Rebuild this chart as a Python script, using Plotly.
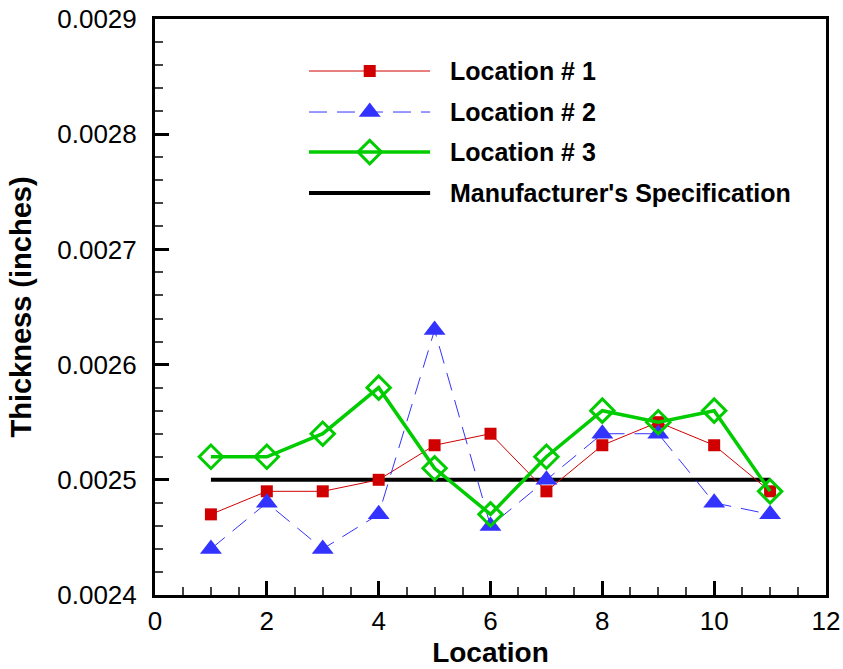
import plotly.graph_objects as go

locations = [1, 2, 3, 4, 5, 6, 7, 8, 9, 10, 11]
loc1 = [0.00247, 0.00249, 0.00249, 0.00250, 0.00253, 0.00254, 0.00249, 0.00253, 0.00255, 0.00253, 0.00249]
loc2 = [0.00244, 0.00248, 0.00244, 0.00247, 0.00263, 0.00246, 0.00250, 0.00254, 0.00254, 0.00248, 0.00247]
loc3 = [0.00252, 0.00252, 0.00254, 0.00258, 0.00251, 0.00247, 0.00252, 0.00256, 0.00255, 0.00256, 0.00249]
spec_x = [1, 11]
spec_y = [0.0025, 0.0025]
names = ["Location # 1", "Location # 2", "Location # 3", "Manufacturer's Specification"]

RED = "#d00000"
BLUE = "#3333ff"
GREEN = "#00cc00"
FONT = "Liberation Sans, Arial, sans-serif"

m1 = dict(symbol="square", size=12, color=RED)
m2 = dict(symbol="triangle-up", size=19, color=BLUE)
m3 = dict(symbol="diamond-open", size=18, color=GREEN, line=dict(width=3, color=GREEN))
l1 = dict(color=RED, width=1)
l2 = dict(color=BLUE, width=1, dash="18px,10px")
l3 = dict(color=GREEN, width=3.5)
l4 = dict(color="black", width=4)

fig = go.Figure()
fig.add_trace(go.Scatter(x=spec_x, y=spec_y, mode="lines", line=l4, showlegend=False))
fig.add_trace(go.Scatter(x=locations, y=loc1, mode="lines+markers", line=l1, marker=m1, showlegend=False))
fig.add_trace(go.Scatter(x=locations, y=loc2, mode="lines+markers", line=l2, marker=m2, showlegend=False))
fig.add_trace(go.Scatter(x=locations, y=loc3, mode="lines+markers", line=l3, marker=m3, showlegend=False))

# custom legend on an overlay axis (0..1 over plot area)
lx0, lx1, lmid, ltext = 0.2295, 0.41, 0.320, 0.4366
rows = [0.9097, 0.8385, 0.769, 0.698]
styles = [(l1, m1), (l2, m2), (l3, m3), (l4, None)]
for ry, (ln, mk), nm in zip(rows, styles, names):
    fig.add_trace(go.Scatter(x=[lx0, lx1], y=[ry, ry], mode="lines", line=ln,
                             xaxis="x2", yaxis="y2", showlegend=False, hoverinfo="skip"))
    if mk is not None:
        fig.add_trace(go.Scatter(x=[lmid], y=[ry], mode="markers", marker=mk,
                                 xaxis="x2", yaxis="y2", showlegend=False, hoverinfo="skip"))
    fig.add_annotation(x=ltext, y=ry, xref="x2", yref="y2", text="<b>%s</b>" % nm, showarrow=False,
                       xanchor="left", yanchor="middle", font=dict(family=FONT, size=25, color="black"))

axis_common = dict(showline=True, linecolor="black", linewidth=3, mirror=True, showgrid=False, zeroline=False,
                   ticks="inside", ticklen=14, tickwidth=3, tickcolor="black", automargin=False,
                   tickfont=dict(family=FONT, size=26, color="black"))

fig.update_layout(
    width=843, height=669, paper_bgcolor="white", plot_bgcolor="white",
    margin=dict(l=155, r=17, t=19, b=74),
    xaxis=dict(range=[0, 12], dtick=2, tick0=0,
               minor=dict(dtick=0.5, ticks="inside", ticklen=8, tickwidth=1.5, tickcolor="#444"),
               title=dict(text="<b>Location</b>", font=dict(family=FONT, size=28, color="black"), standoff=8),
               ticklabelstandoff=1, **axis_common),
    yaxis=dict(range=[0.0024, 0.0029], dtick=0.0001, tick0=0.0024, tickformat=".4f",
               minor=dict(dtick=0.00002, ticks="inside", ticklen=8, tickwidth=1.5, tickcolor="#444"),
               title=dict(text="<b>Thickness (inches)</b>", font=dict(family=FONT, size=29, color="black"), standoff=18),
               ticklabelstandoff=10, **axis_common),
    xaxis2=dict(range=[0, 1], overlaying="x", visible=False, fixedrange=True),
    yaxis2=dict(range=[0, 1], overlaying="y", visible=False, fixedrange=True),
    showlegend=False,
)

fig.write_html("out.html")
